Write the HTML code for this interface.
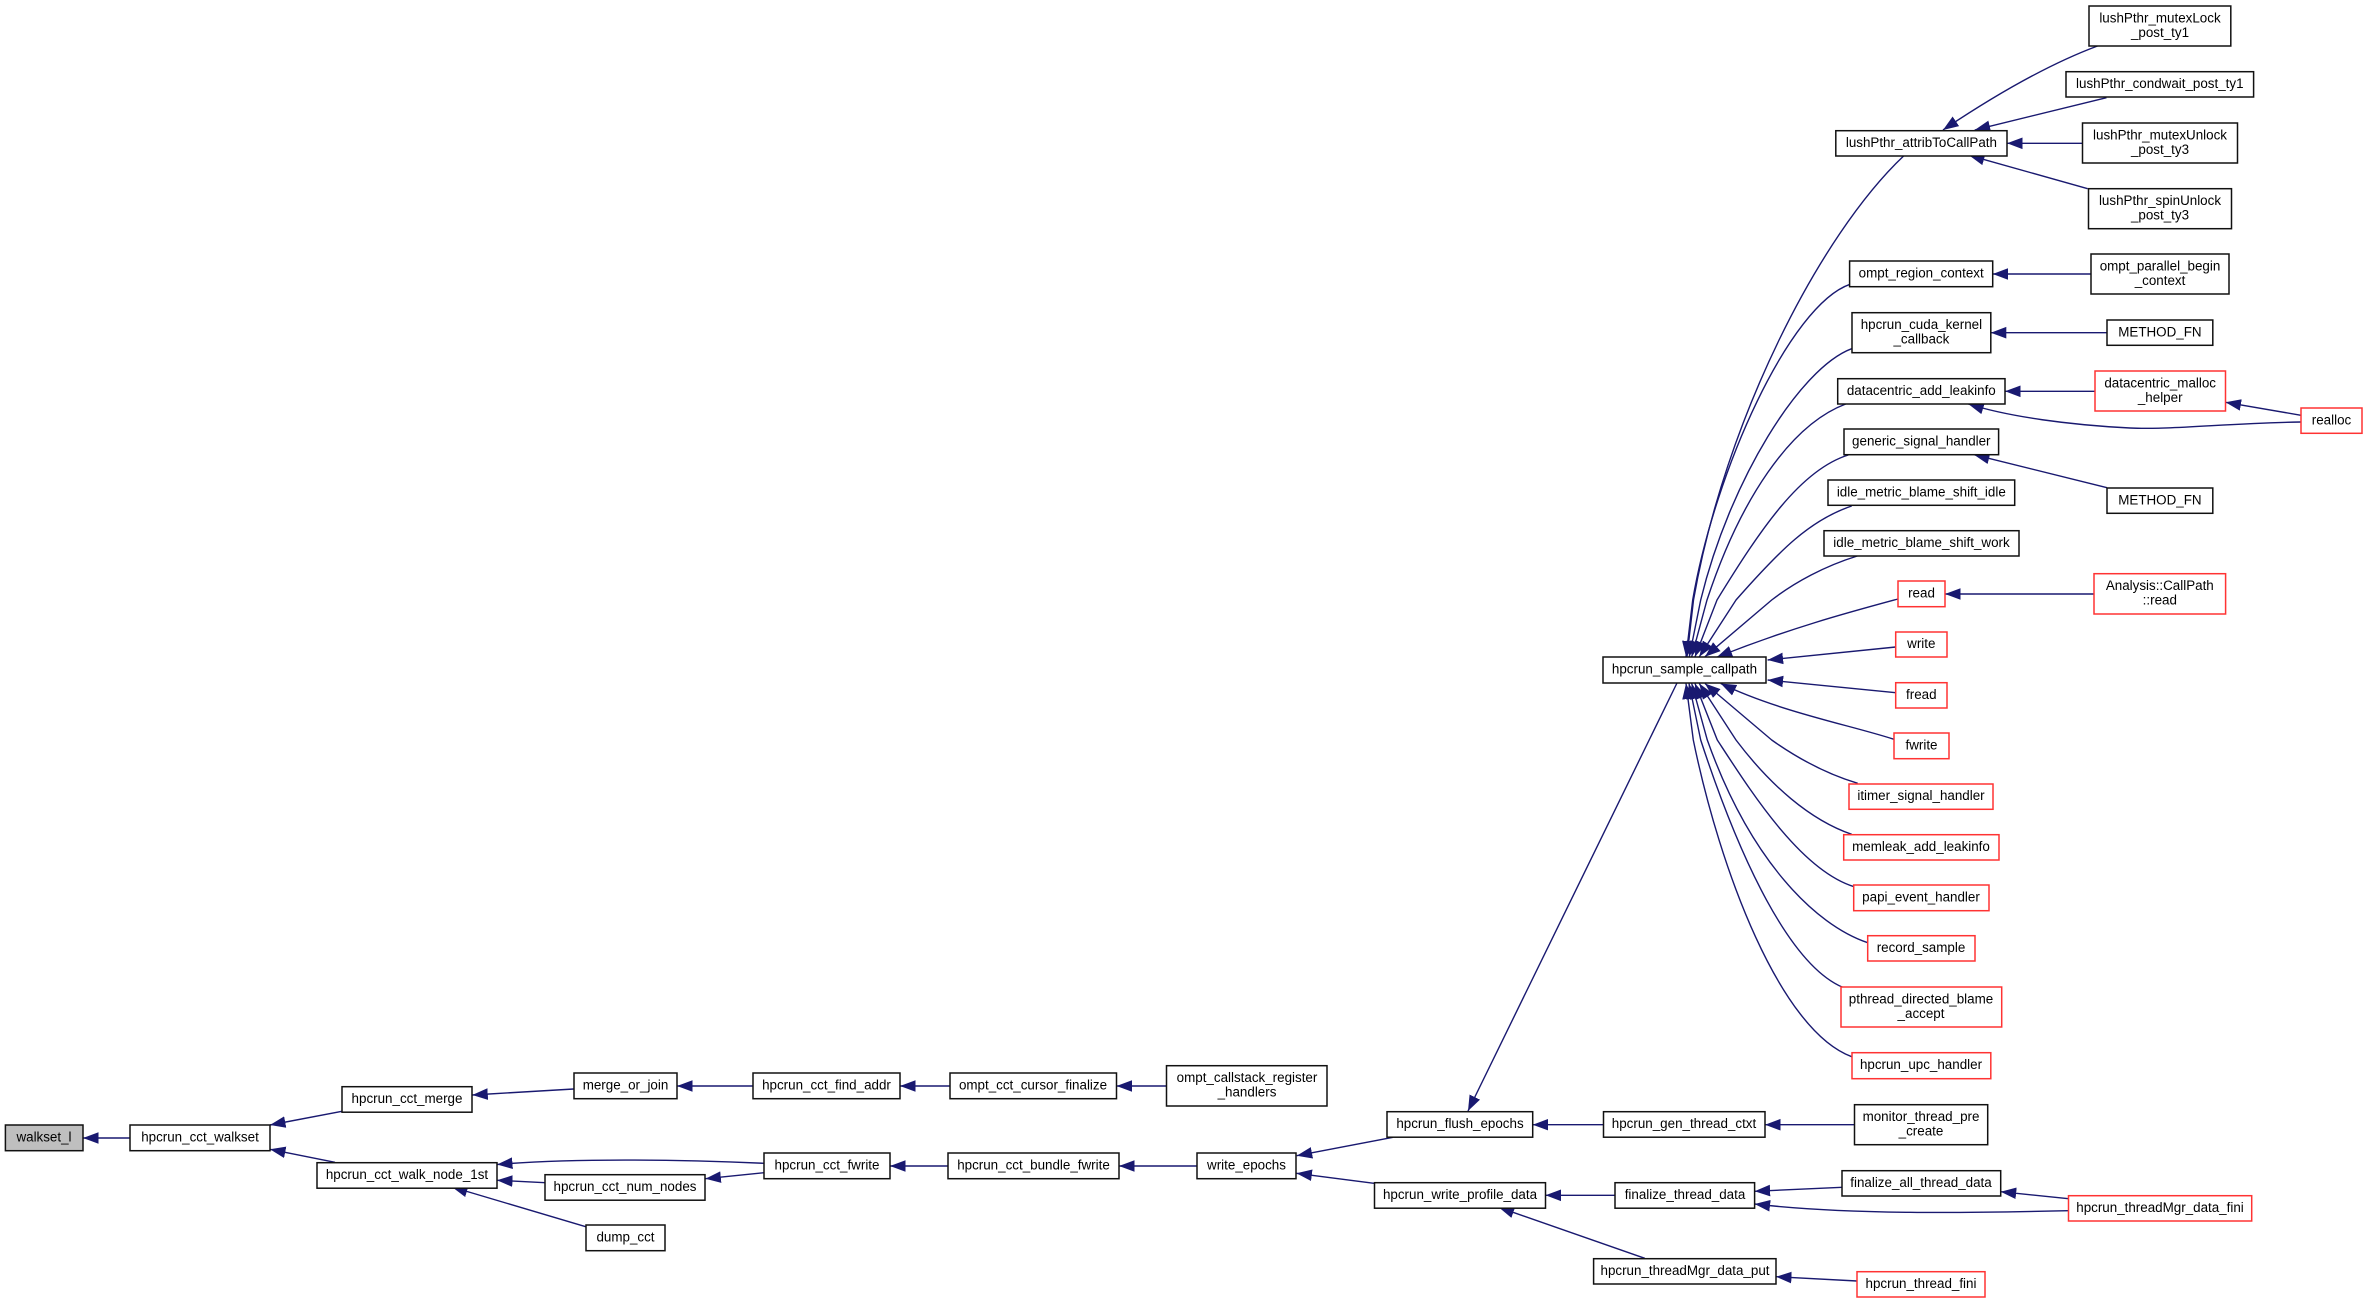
<!DOCTYPE html>
<html><head><meta charset="utf-8"><style>
html,body{margin:0;padding:0;background:#fff}
svg{display:block}
rect{fill:#fff;stroke:#111;stroke-width:1.5}
rect.r{stroke:#f33}
rect.g{fill:#bfbfbf}
text{font-family:"Liberation Sans",sans-serif;font-size:13.4px;text-anchor:middle;fill:#000}
path{fill:none;stroke:#191970;stroke-width:1.4;marker-end:url(#a)}
</style></head><body>
<svg xmlns="http://www.w3.org/2000/svg" width="2367" height="1303" viewBox="0 0 2367 1303">
<defs><marker id="a" markerUnits="userSpaceOnUse" markerWidth="18" markerHeight="14" viewBox="0 -7 18 14" refX="15.5" refY="0" orient="auto"><polygon points="0,-5.8 15.5,0 0,5.8" fill="#191970"/></marker></defs>

<path d="M130,1138L83,1138"/>
<path d="M342,1111.3L270,1125"/>
<path d="M335,1162.3L270,1149.3"/>
<path d="M764,1163.3C690,1160 580,1157.5 497,1164.5"/>
<path d="M545,1182.7L497,1180.3"/>
<path d="M585.7,1226.7L452,1187"/>
<path d="M573.7,1089L472.3,1095"/>
<path d="M753,1086L677,1086"/>
<path d="M950,1086L900,1086"/>
<path d="M1166.5,1086L1116.5,1086"/>
<path d="M948,1166L890,1166"/>
<path d="M1197,1166L1119,1166"/>
<path d="M764,1172.7L705.4,1178.7"/>
<path d="M1393,1137.3L1296.7,1155.7"/>
<path d="M1374,1183.3L1296.4,1173.3"/>
<path d="M1603.5,1124.7L1532.7,1124.7"/>
<path d="M1854.5,1124.7L1765,1124.7"/>
<path d="M1615,1195.3L1545.5,1195.3"/>
<path d="M1842,1187.3L1754.6,1191.3"/>
<path d="M2068.5,1210.7C1970,1213 1850,1215 1754.6,1204"/>
<path d="M2068.5,1198.7L2000.7,1191.7"/>
<path d="M1644.8,1258.3L1498.7,1207.3"/>
<path d="M1857,1281L1776,1276.7"/>
<path d="M1677,683L1468,1111"/>

<path d="M1903.6,156C1820,235 1725,420 1693.5,600L1687,656.7"/>
<path d="M1850,284.3C1790,305 1715,470 1692.7,600L1686,656.7"/>
<path d="M1851.7,348.7C1800,368 1730,480 1700.7,600L1689.3,656.7"/>
<path d="M1845.7,404C1790,425 1740,500 1707,600L1691.7,656.7"/>
<path d="M1848.3,455C1800,470 1760,530 1717,600L1695,656.7"/>
<path d="M1851.7,506C1810,520 1780,550 1736,600L1699.3,656.7"/>
<path d="M1857.3,556C1825,566 1795,582 1771.7,600L1705,656.7"/>
<path d="M1898,599C1850,612 1790,628 1716.7,657.3"/>
<path d="M1895.7,647L1767.6,660"/>
<path d="M1895.7,692.7L1767.6,680"/>
<path d="M1894,739.3C1850,725 1780,712 1720.7,683.5"/>
<path d="M1857.7,783.3C1830,775 1800,760 1771.7,740L1705,683.5"/>
<path d="M1851.7,834.3C1810,820 1770,785 1736,740L1699.3,683.5"/>
<path d="M1854,886.7C1800,870 1750,790 1717.3,740L1695,683.5"/>
<path d="M1867.7,942.7C1815,925 1750,860 1707.3,740L1691.7,683.5"/>
<path d="M1842.7,987.3C1790,965 1740,860 1700.7,740L1689,683.5"/>
<path d="M1851.7,1056.7C1780,1030 1720,870 1693.3,740L1686,683.5"/>

<path d="M2097.5,46C2060,60 2010,85 1943,130"/>
<path d="M2106.5,97.7L1974.7,130"/>
<path d="M2082.5,143.3L2007,143.3"/>
<path d="M2087.7,188.7L1969,155.3"/>
<path d="M2091,274L1992.7,274"/>
<path d="M2107,332.7L1990.8,332.7"/>
<path d="M2095,391.3L2005,391.3"/>
<path d="M2301,415.3L2225.5,402.3"/>
<path d="M2301,422C2230,423 2170,430 2130,428C2070,425 2010,417 1968.3,404"/>
<path d="M2107,487.7L1974,454.7"/>
<path d="M2094,594L1945,594"/>

<rect class="g" x="5.4" y="1125" width="77.6" height="25.7"/><text x="44" y="1141.5">walkset_l</text>
<rect x="130" y="1125" width="140" height="25.7"/><text x="200" y="1141.5">hpcrun_cct_walkset</text>
<rect x="342" y="1086.7" width="130" height="25.5"/><text x="407" y="1103">hpcrun_cct_merge</text>
<rect x="574" y="1073" width="103" height="25.7"/><text x="625.5" y="1089.4">merge_or_join</text>
<rect x="317" y="1162.7" width="180" height="25.5"/><text x="407" y="1179">hpcrun_cct_walk_node_1st</text>
<rect x="545" y="1174.7" width="160" height="25.5"/><text x="625" y="1191">hpcrun_cct_num_nodes</text>
<rect x="586" y="1225" width="79" height="25.7"/><text x="625.5" y="1241.4">dump_cct</text>
<rect x="753" y="1073" width="147" height="25.7"/><text x="826.5" y="1089.4">hpcrun_cct_find_addr</text>
<rect x="950" y="1073" width="166.5" height="25.7"/><text x="1033" y="1089.4">ompt_cct_cursor_finalize</text>
<rect x="1166.5" y="1065.7" width="160.5" height="40.3"/><text x="1247" y="1082">ompt_callstack_register</text><text x="1247" y="1096.7">_handlers</text>
<rect x="764" y="1153" width="126" height="25.7"/><text x="827" y="1169.4">hpcrun_cct_fwrite</text>
<rect x="948" y="1153" width="171" height="25.7"/><text x="1033.5" y="1169.4">hpcrun_cct_bundle_fwrite</text>
<rect x="1197" y="1153" width="99" height="25.7"/><text x="1246.5" y="1169.4">write_epochs</text>
<rect x="1387" y="1111.7" width="145.7" height="25.5"/><text x="1460" y="1128">hpcrun_flush_epochs</text>
<rect x="1374.5" y="1182.7" width="171" height="25.5"/><text x="1460" y="1199">hpcrun_write_profile_data</text>
<rect x="1603.5" y="1111.7" width="161.5" height="25.5"/><text x="1684" y="1128">hpcrun_gen_thread_ctxt</text>
<rect x="1854.5" y="1104.7" width="133.2" height="40"/><text x="1921" y="1121">monitor_thread_pre</text><text x="1921" y="1135.7">_create</text>
<rect x="1615" y="1182.7" width="139.6" height="25.5"/><text x="1685" y="1199">finalize_thread_data</text>
<rect x="1842" y="1170.7" width="158.7" height="25.3"/><text x="1921" y="1187">finalize_all_thread_data</text>
<rect class="r" x="2068.5" y="1195.7" width="183.2" height="25.3"/><text x="2160" y="1212">hpcrun_threadMgr_data_fini</text>
<rect x="1593.6" y="1258.7" width="182.4" height="25.3"/><text x="1685" y="1275">hpcrun_threadMgr_data_put</text>
<rect class="r" x="1857" y="1271.7" width="128" height="25.3"/><text x="1921" y="1288">hpcrun_thread_fini</text>
<rect class="r" x="1852" y="1052.7" width="138.8" height="26"/><text x="1921" y="1069">hpcrun_upc_handler</text>
<rect class="r" x="1841" y="987" width="160.7" height="40"/><text x="1921" y="1003.5">pthread_directed_blame</text><text x="1921" y="1018">_accept</text>
<rect class="r" x="1867.7" y="935.7" width="107.3" height="25.3"/><text x="1921" y="952">record_sample</text>
<rect class="r" x="1853.7" y="885" width="135.3" height="25.7"/><text x="1921" y="901.4">papi_event_handler</text>
<rect class="r" x="1843.7" y="834.7" width="155.3" height="25.3"/><text x="1921" y="851">memleak_add_leakinfo</text>
<rect class="r" x="1849" y="784" width="144" height="25.3"/><text x="1921" y="800">itimer_signal_handler</text>
<rect class="r" x="1894" y="733" width="55" height="25.7"/><text x="1921.5" y="749.4">fwrite</text>
<rect class="r" x="1895.7" y="682.7" width="51.3" height="25.3"/><text x="1921.3" y="699">fread</text>
<rect class="r" x="1895.7" y="632" width="51.3" height="25"/><text x="1921.3" y="648">write</text>
<rect class="r" x="1898" y="581" width="47" height="25.7"/><text x="1921.5" y="597.4">read</text>
<rect class="r" x="2094" y="573.7" width="131.6" height="40.3"/><text x="2159.8" y="590">Analysis::CallPath</text><text x="2159.8" y="604.7">::read</text>
<rect x="1603" y="657" width="163" height="26"/><text x="1684.5" y="673.5">hpcrun_sample_callpath</text>
<rect x="1824" y="530.7" width="195" height="25.3"/><text x="1921.5" y="547">idle_metric_blame_shift_work</text>
<rect x="1828" y="480" width="186.7" height="25.3"/><text x="1921.3" y="496.5">idle_metric_blame_shift_idle</text>
<rect x="1844" y="429" width="154.6" height="25.7"/><text x="1921.3" y="445.4">generic_signal_handler</text>
<rect x="2107" y="488" width="105.8" height="25.3"/><text x="2159.9" y="504.5">METHOD_FN</text>
<rect x="1837.7" y="378.7" width="167.3" height="25.3"/><text x="1921.3" y="395">datacentric_add_leakinfo</text>
<rect class="r" x="2095" y="371" width="130.5" height="40"/><text x="2160.2" y="387.3">datacentric_malloc</text><text x="2160.2" y="402">_helper</text>
<rect class="r" x="2301" y="408" width="61" height="25.3"/><text x="2331.5" y="424.3">realloc</text>
<rect x="1852" y="312.7" width="138.8" height="40"/><text x="1921.4" y="329">hpcrun_cuda_kernel</text><text x="1921.4" y="343.5">_callback</text>
<rect x="2107" y="320" width="105.8" height="25.3"/><text x="2159.9" y="336.5">METHOD_FN</text>
<rect x="1849.6" y="261" width="143.1" height="25.7"/><text x="1921.2" y="277.4">ompt_region_context</text>
<rect x="2091" y="254" width="138" height="40"/><text x="2160" y="270.3">ompt_parallel_begin</text><text x="2160" y="285">_context</text>
<rect x="1835.8" y="130.7" width="171.2" height="25.3"/><text x="1921.4" y="147">lushPthr_attribToCallPath</text>
<rect x="2089" y="6" width="141.8" height="40"/><text x="2160" y="22.3">lushPthr_mutexLock</text><text x="2160" y="37">_post_ty1</text>
<rect x="2066" y="71.7" width="187.6" height="25.3"/><text x="2159.8" y="88">lushPthr_condwait_post_ty1</text>
<rect x="2082.5" y="123" width="155" height="40"/><text x="2160" y="139.3">lushPthr_mutexUnlock</text><text x="2160" y="154">_post_ty3</text>
<rect x="2088.5" y="188.7" width="143" height="40"/><text x="2160" y="205">lushPthr_spinUnlock</text><text x="2160" y="219.7">_post_ty3</text>
</svg>
</body></html>
